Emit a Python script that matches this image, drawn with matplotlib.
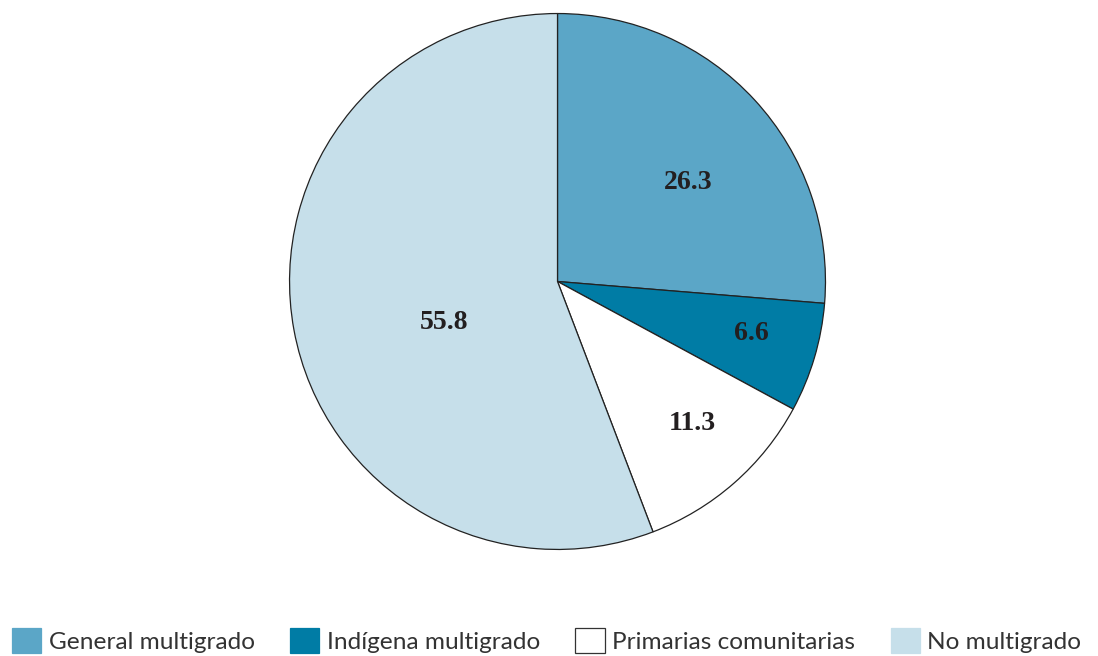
import matplotlib.pyplot as plt
from matplotlib.patches import Patch
import numpy as np

# shares by school type (percent)
categorias = ["General multigrado", "Indígena multigrado",
              "Primarias comunitarias", "No multigrado"]
valores = [26.3, 6.6, 11.3, 55.8]
colores = ["#5ba6c7", "#007ca5", "#ffffff", "#c6dfea"]

# label placement inside each wedge: (fraction of radius, degrees off the wedge middle)
pos_etiquetas = [(0.61, -5.5), (0.75, 1.5), (0.73, 2.3), (0.45, 9.6)]

fig = plt.figure(figsize=(10.98, 6.56), dpi=100)
ax = fig.add_axes([0.2632, 0.1616, 0.4891, 0.8186])

wedges, _ = ax.pie(valores, colors=colores, startangle=90, counterclock=False,
                   radius=1.0,
                   wedgeprops=dict(edgecolor="#222222", linewidth=0.9))

for w, v, (r, da) in zip(wedges, valores, pos_etiquetas):
    ang = np.deg2rad((w.theta1 + w.theta2) / 2 + da)
    ax.text(r * np.cos(ang), r * np.sin(ang), f"{v:.1f}",
            ha="center", va="center", fontsize=20, fontweight="bold",
            family="Liberation Serif", color="#231f20")

ax.set_xlim(-1.002, 1.002)
ax.set_ylim(-1.002, 1.002)
ax.set_aspect("equal")
ax.axis("off")

handles = [Patch(facecolor=c, edgecolor="#333333" if c == "#ffffff" else c,
                 linewidth=0.9) for c in colores]
leg = fig.legend(handles, categorias, loc="lower left", ncol=4,
                 bbox_to_anchor=(0.002, -0.011), frameon=False,
                 prop={"family": "Lato", "size": 17.6},
                 handlelength=1.2, handleheight=1.2, handletextpad=0.3,
                 columnspacing=1.45, borderaxespad=0.0)
for t in leg.get_texts():
    t.set_color("#333333")

fig.savefig("out.png", dpi=100)
